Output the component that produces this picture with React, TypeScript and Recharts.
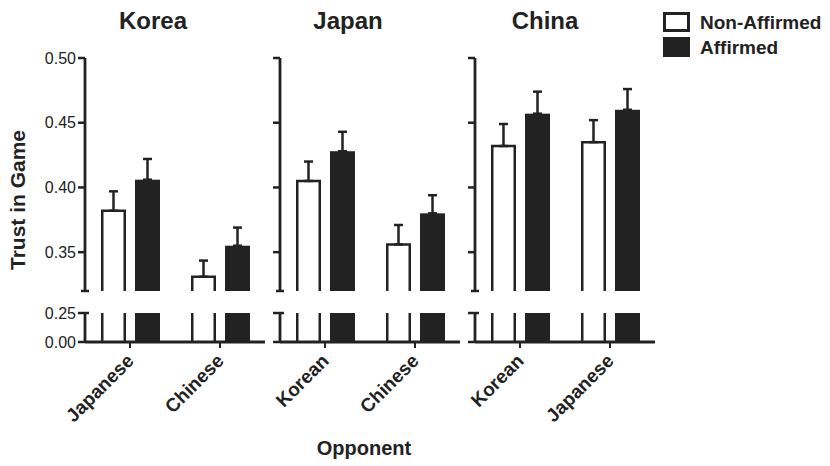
import React from "react";
import { BarChart, Bar, XAxis, YAxis, ErrorBar } from "recharts";

// panel titles (rater nationality) and their opponents
const countries = ["Korea", "Japan", "China"];
const opponents = [
  ["Japanese", "Chinese"],
  ["Korean", "Chinese"],
  ["Korean", "Japanese"],
];

// mean trust, per panel, per opponent
const nonAffirmed = [
  [0.382, 0.331],
  [0.405, 0.356],
  [0.432, 0.435],
];
const affirmed = [
  [0.406, 0.355],
  [0.428, 0.38],
  [0.457, 0.46],
];

// standard errors (drawn upward only)
const nonAffirmedErr = [
  [0.015, 0.0125],
  [0.015, 0.015],
  [0.017, 0.017],
];
const affirmedErr = [
  [0.016, 0.014],
  [0.015, 0.014],
  [0.017, 0.016],
];

const upperTicks = [0.32, 0.35, 0.4, 0.45, 0.5];
const lowerTicks = [0, 0.25];

const INK = "#222";
const FONT = "'Liberation Sans', Arial, Helvetica, sans-serif";

const PANEL_LEFT = [85, 280, 475];
const PLOT_W = 180;
const AXIS_W = 50;
const RIGHT = 6;
const TOP_PAD = 12;

// y-axis tick with optional label and broken-axis cap
const YTick = (props: any) => {
  const { x, y, payload, showLabel, breakAt } = props;
  const ax = x + 9;
  const v = payload.value;
  const isBreak = v === breakAt;
  const isCapOnly = v === 0.32;
  const x1 = isCapOnly ? ax - 4 : ax - 7;
  const x2 = isBreak ? ax + 4 : ax;
  return (
    <g>
      <line x1={x1} x2={x2} y1={y} y2={y} stroke={INK} strokeWidth={2.5} />
      {showLabel && !isCapOnly && (
        <text
          x={x}
          y={y}
          dy='0.36em'
          textAnchor='end'
          fontSize={16}
          fontFamily={FONT}
          fill={INK}
        >
          {v.toFixed(2)}
        </text>
      )}
    </g>
  );
};

const XTick = (props: any) => {
  const { x, y, payload } = props;
  const tx = x + 5;
  const ty = y + 12;
  return (
    <text
      x={tx}
      y={ty}
      transform={`rotate(-45, ${tx}, ${ty})`}
      textAnchor='end'
      fontSize={19}
      fontWeight='bold'
      fontFamily={FONT}
      fill={INK}
    >
      {payload.value}
    </text>
  );
};

// bar drawn open at the bottom; top is cut where it leaves the plot
const makeShape = (filled: boolean) => (props: any) => {
  const { x, y, width, height } = props;
  if (width == null || height == null || isNaN(y)) return <g />;
  const bottom = y + height;
  const clipped = y < TOP_PAD - 0.5;
  const top = Math.max(y, TOP_PAD);
  if (filled) {
    return <rect x={x} y={top} width={width} height={bottom - top} fill={INK} />;
  }
  const l = x + 1.25;
  const r = x + width - 1.25;
  const d = clipped
    ? `M${l},${bottom}V${top}M${r},${top}V${bottom}`
    : `M${l},${bottom}V${top}H${r}V${bottom}`;
  return <path d={d} fill='none' stroke={INK} strokeWidth={2.5} />;
};

const whiteShape = makeShape(false);
const blackShape = makeShape(true);

const Panel = ({ idx }: { idx: number }) => {
  const data = opponents[idx].map((name, i) => ({
    name,
    non: nonAffirmed[idx][i],
    aff: affirmed[idx][i],
    nonErr: [0, nonAffirmedErr[idx][i]],
    affErr: [0, affirmedErr[idx][i]],
  }));
  const left = PANEL_LEFT[idx] - AXIS_W;
  const width = AXIS_W + PLOT_W + RIGHT;
  const showLabel = idx === 0;

  return (
    <>
      {/* upper segment 0.32 - 0.50 */}
      <div style={{ position: "absolute", left, top: 58 - TOP_PAD }}>
        <BarChart
          width={width}
          height={TOP_PAD + 233 + 2}
          data={data}
          margin={{ top: TOP_PAD, right: RIGHT, bottom: 2, left: 0 }}
          barSize={25}
          barGap={9}
        >
          <XAxis dataKey='name' hide />
          <YAxis
            width={AXIS_W}
            domain={[0.32, 0.5]}
            allowDataOverflow
            ticks={upperTicks}
            interval={0}
            tickSize={7}
            tickMargin={2}
            tickLine={false}
            axisLine={{ stroke: INK, strokeWidth: 2.8 }}
            tick={<YTick showLabel={showLabel} breakAt={0.32} />}
          />
          <Bar dataKey='non' shape={whiteShape} isAnimationActive={false}>
            <ErrorBar
              dataKey='nonErr'
              direction='y'
              width={4.5}
              stroke={INK}
              strokeWidth={2.5}
            />
          </Bar>
          <Bar dataKey='aff' shape={blackShape} isAnimationActive={false}>
            <ErrorBar
              dataKey='affErr'
              direction='y'
              width={4.5}
              stroke={INK}
              strokeWidth={2.5}
            />
          </Bar>
        </BarChart>
      </div>

      {/* lower segment 0 - 0.25 */}
      <div style={{ position: "absolute", left, top: 313 - TOP_PAD }}>
        <BarChart
          width={width}
          height={TOP_PAD + 29 + 100}
          data={data}
          margin={{ top: TOP_PAD, right: RIGHT, bottom: 0, left: 0 }}
          barSize={25}
          barGap={9}
        >
          <XAxis
            dataKey='name'
            height={100}
            interval={0}
            tickSize={6}
            tickMargin={2}
            axisLine={{ stroke: INK, strokeWidth: 3 }}
            tickLine={{ stroke: INK, strokeWidth: 2 }}
            tick={<XTick />}
          />
          <YAxis
            width={AXIS_W}
            domain={[0, 0.25]}
            allowDataOverflow
            ticks={lowerTicks}
            interval={0}
            tickSize={7}
            tickMargin={2}
            tickLine={false}
            axisLine={{ stroke: INK, strokeWidth: 2.8 }}
            tick={<YTick showLabel={showLabel} breakAt={0.25} />}
          />
          <Bar dataKey='non' shape={whiteShape} isAnimationActive={false} />
          <Bar dataKey='aff' shape={blackShape} isAnimationActive={false} />
        </BarChart>
      </div>
    </>
  );
};

const titleX = [153, 348, 545];

export default function App() {
  return (
    <div
      style={{
        position: "absolute",
        left: 0,
        top: 0,
        width: 830,
        height: 466,
        background: "#fff",
        fontFamily: FONT,
      }}
    >
      {countries.map((c, i) => (
        <Panel key={c} idx={i} />
      ))}

      {/* titles, axis labels and legend */}
      <svg
        width={830}
        height={466}
        style={{ position: "absolute", left: 0, top: 0, pointerEvents: "none" }}
      >
        <g fontFamily={FONT} fontWeight='bold' fill={INK}>
          {countries.map((c, i) => (
            <text key={c} x={titleX[i]} y={29} textAnchor='middle' fontSize={24}>
              {c}
            </text>
          ))}
          <text
            x={25}
            y={200}
            textAnchor='middle'
            fontSize={21}
            transform='rotate(-90, 25, 200)'
          >
            Trust in Game
          </text>
          <text x={364} y={455} textAnchor='middle' fontSize={20}>
            Opponent
          </text>

          <rect
            x={664.5}
            y={13.5}
            width={24}
            height={17}
            fill='#fff'
            stroke={INK}
            strokeWidth={3}
          />
          <rect x={663} y={37} width={27} height={20} fill={INK} />
          <text x={700} y={29} fontSize={19}>
            Non-Affirmed
          </text>
          <text x={700} y={54} fontSize={19}>
            Affirmed
          </text>
        </g>
      </svg>
    </div>
  );
}
